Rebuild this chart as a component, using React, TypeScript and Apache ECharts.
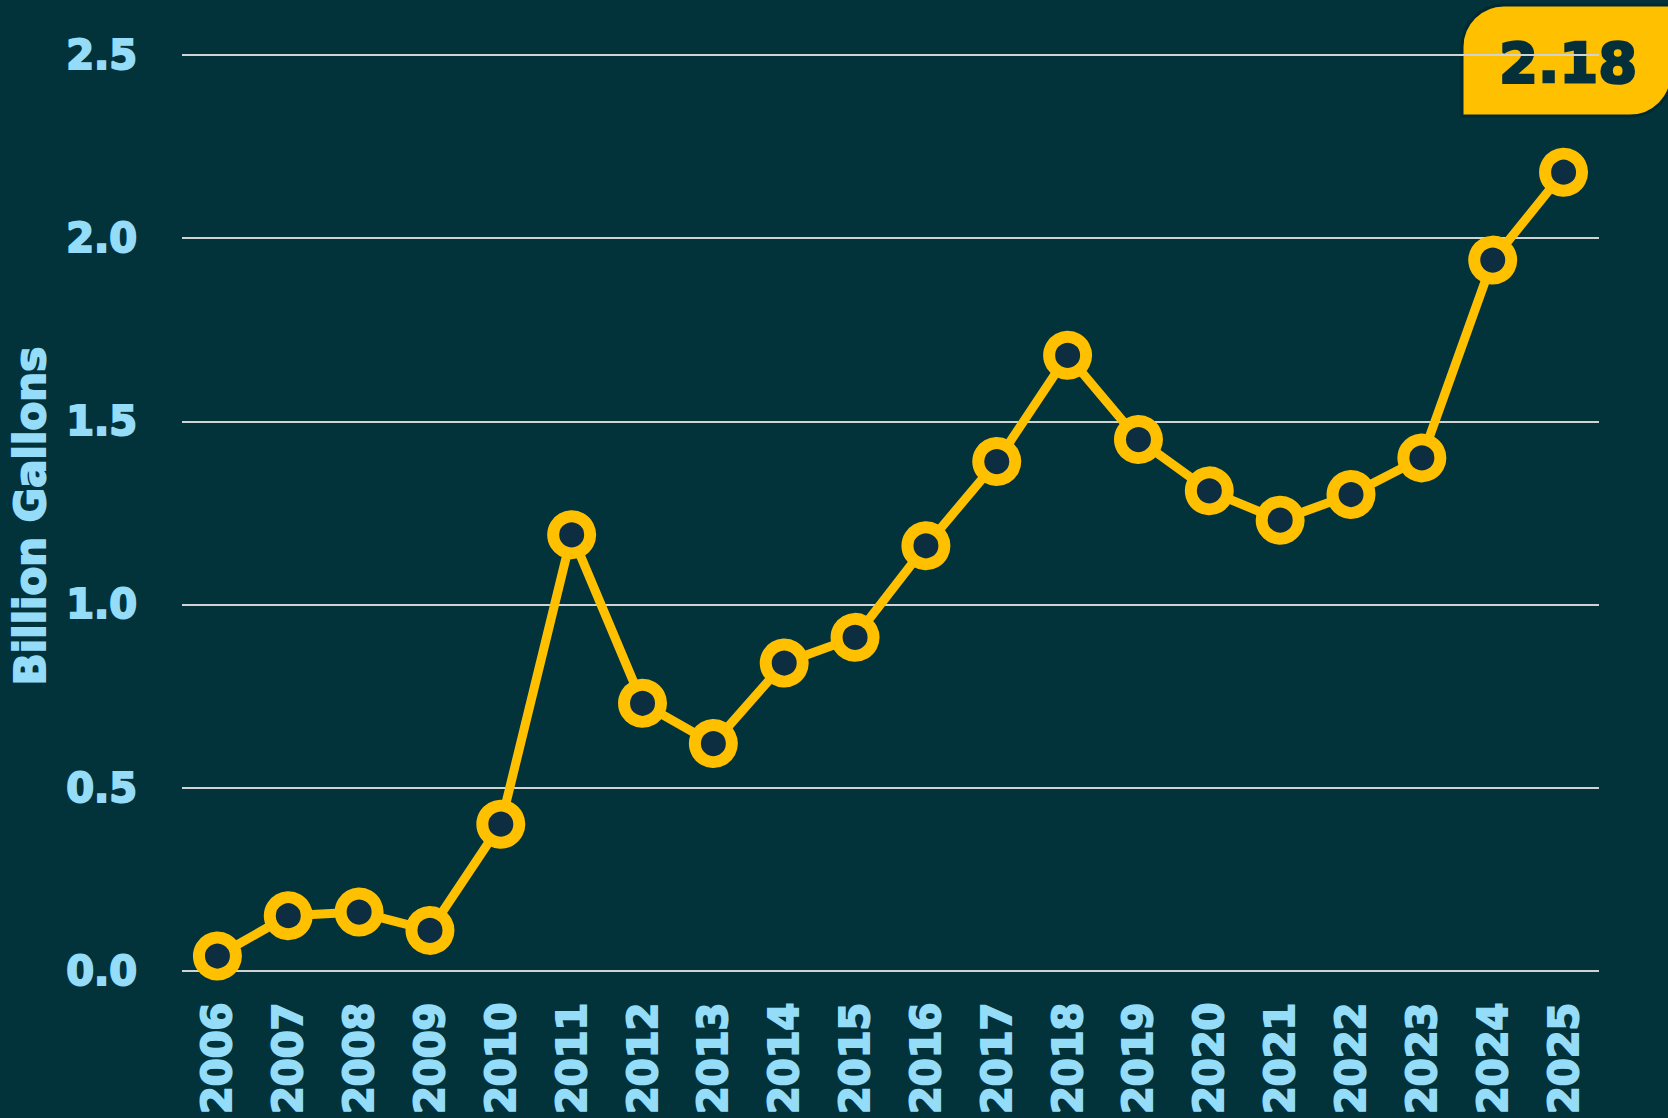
import React, { useEffect, useRef } from "react";
import * as echarts from "echarts";

const years = ["2006","2007","2008","2009","2010","2011","2012","2013","2014","2015","2016","2017","2018","2019","2020","2021","2022","2023","2024","2025"];
const gallons = [0.04,0.15,0.16,0.11,0.40,1.19,0.73,0.62,0.84,0.91,1.16,1.39,1.68,1.45,1.31,1.23,1.30,1.40,1.94,2.18];
const yTicks = { min: 0, max: 2.5, interval: 0.5 };
const yName = "Billion Gallons";
const latestLabel = "2.18";

const BG = "#02323a";
const YELLOW = "#ffc000";
const LABEL = "#94dcf8";
const FONT = "'DejaVu Sans', sans-serif";

export default function App() {
  const ref = useRef<HTMLDivElement>(null);
  useEffect(() => {
    document.body.style.margin = "0";
    const chart = echarts.init(ref.current!, null, { renderer: "svg" });
    chart.setOption({
      animation: false,
      backgroundColor: BG,
      grid: { left: 182, right: 69, top: 55, bottom: 141 },
      xAxis: {
        type: "category",
        data: years,
        boundaryGap: true,
        axisLine: { show: false },
        axisTick: { show: false },
        axisLabel: {
          rotate: 90,
          margin: 32,
          color: LABEL,
          fontFamily: FONT,
          fontWeight: "bold",
          fontSize: 40,
          textBorderColor: LABEL,
          textBorderWidth: 2,
        },
      },
      yAxis: {
        type: "value",
        min: yTicks.min,
        max: yTicks.max,
        interval: yTicks.interval,
        axisLine: { show: false },
        axisTick: { show: false },
        axisLabel: {
          margin: 45,
          color: LABEL,
          fontFamily: FONT,
          fontWeight: "bold",
          fontSize: 40,
          textBorderColor: LABEL,
          textBorderWidth: 2,
          formatter: (v: number) => v.toFixed(1),
        },
        splitLine: { lineStyle: { color: "#cfd3d3", width: 2 } },
      },
      graphic: [
        {
          type: "text",
          x: 30,
          y: 516,
          rotation: Math.PI / 2,
          style: {
            text: yName,
            fill: LABEL,
            stroke: LABEL,
            lineWidth: 2,
            font: `bold 42px ${FONT}`,
            textAlign: "center",
            textVerticalAlign: "middle",
          },
        },
        {
          type: "group",
          x: 1462,
          y: 5,
          children: [
            {
              type: "rect",
              shape: { x: 0, y: 0, width: 210, height: 111, r: [42, 0, 42, 0] },
              style: { fill: YELLOW, stroke: "#012a30", lineWidth: 3 },
            },
            {
              type: "text",
              x: 106,
              y: 57,
              style: {
                text: latestLabel,
                fill: "#05303a",
                stroke: "#05303a",
                lineWidth: 2.5,
                font: `bold 56px ${FONT}`,
                textAlign: "center",
                textVerticalAlign: "middle",
              },
            },
          ],
        },
      ],
      series: [
        {
          type: "line",
          data: gallons,
          symbol: "circle",
          symbolSize: 37,
          lineStyle: { color: YELLOW, width: 9 },
          itemStyle: { color: "#0d2e40", borderColor: YELLOW, borderWidth: 12 },
          z: 3,
        },
      ],
    });
    return () => chart.dispose();
  }, []);
  return <div ref={ref} style={{ width: 1668, height: 1118 }} />;
}
